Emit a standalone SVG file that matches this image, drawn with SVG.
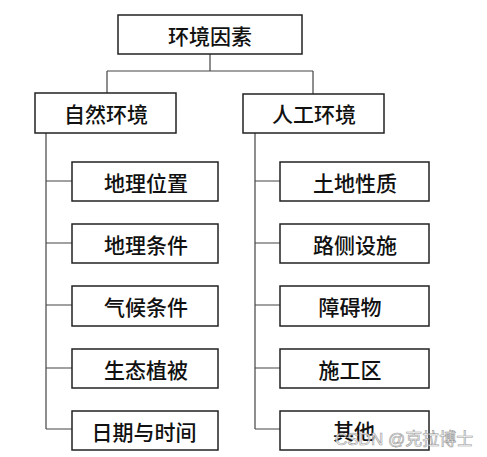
<svg xmlns="http://www.w3.org/2000/svg" width="487" height="457" viewBox="0 0 487 457">
<style>
.box{fill:#fff;stroke:#222;stroke-width:1.5}
.t{font-family:"Noto Sans CJK SC","Noto Sans",sans-serif;font-size:21px;font-weight:500;fill:#111;text-anchor:middle;dominant-baseline:central}
.ln{fill:none;stroke:#444;stroke-width:1.2}
.wm{font-family:"Liberation Sans","Noto Sans CJK SC",sans-serif;font-size:17px;fill:#fff;stroke:#888;stroke-width:0.6;opacity:0.85}
</style>
<rect width="487" height="457" fill="#fff"/>
<g id="connectors">
<path class="ln" d="M210 54V71M107 71H313M107 71V93M313 71V94"/>
<path class="ln" d="M46 133V429M46 181H72M46 243H72M46 305H72M46 368H72M46 429H72"/>
<path class="ln" d="M255 133V429M255 181H280M255 243H280M255 305H280M255 368H280M255 429H280"/>
</g>
<g id="root"><rect class="box" x="118" y="15" width="184" height="39"/><text class="t" x="210" y="35">环境因素</text></g>
<g id="natural"><rect class="box" x="35" y="93" width="141" height="40"/><text class="t" x="106" y="113">自然环境</text></g>
<g id="artificial"><rect class="box" x="243" y="94" width="141" height="39"/><text class="t" x="314" y="113">人工环境</text></g>
<g id="n1"><rect class="box" x="72" y="162" width="146" height="39"/><text class="t" x="146" y="182">地理位置</text></g>
<g id="n2"><rect class="box" x="72" y="224" width="146" height="39"/><text class="t" x="146" y="244">地理条件</text></g>
<g id="n3"><rect class="box" x="72" y="286" width="146" height="40"/><text class="t" x="146" y="306">气候条件</text></g>
<g id="n4"><rect class="box" x="72" y="349" width="146" height="39"/><text class="t" x="146" y="369">生态植被</text></g>
<g id="n5"><rect class="box" x="72" y="411" width="146" height="39"/><text class="t" x="144" y="431">日期与时间</text></g>
<g id="a1"><rect class="box" x="280" y="162" width="149" height="39"/><text class="t" x="355" y="182">土地性质</text></g>
<g id="a2"><rect class="box" x="280" y="224" width="149" height="39"/><text class="t" x="355" y="244">路侧设施</text></g>
<g id="a3"><rect class="box" x="280" y="286" width="149" height="40"/><text class="t" x="350" y="306">障碍物</text></g>
<g id="a4"><rect class="box" x="280" y="349" width="149" height="39"/><text class="t" x="350" y="369">施工区</text></g>
<g id="a5"><rect class="box" x="280" y="411" width="149" height="39"/><text class="t" x="354" y="430">其他</text></g>
<text class="wm" x="335" y="445">CSDN @克拉博士</text>
</svg>
